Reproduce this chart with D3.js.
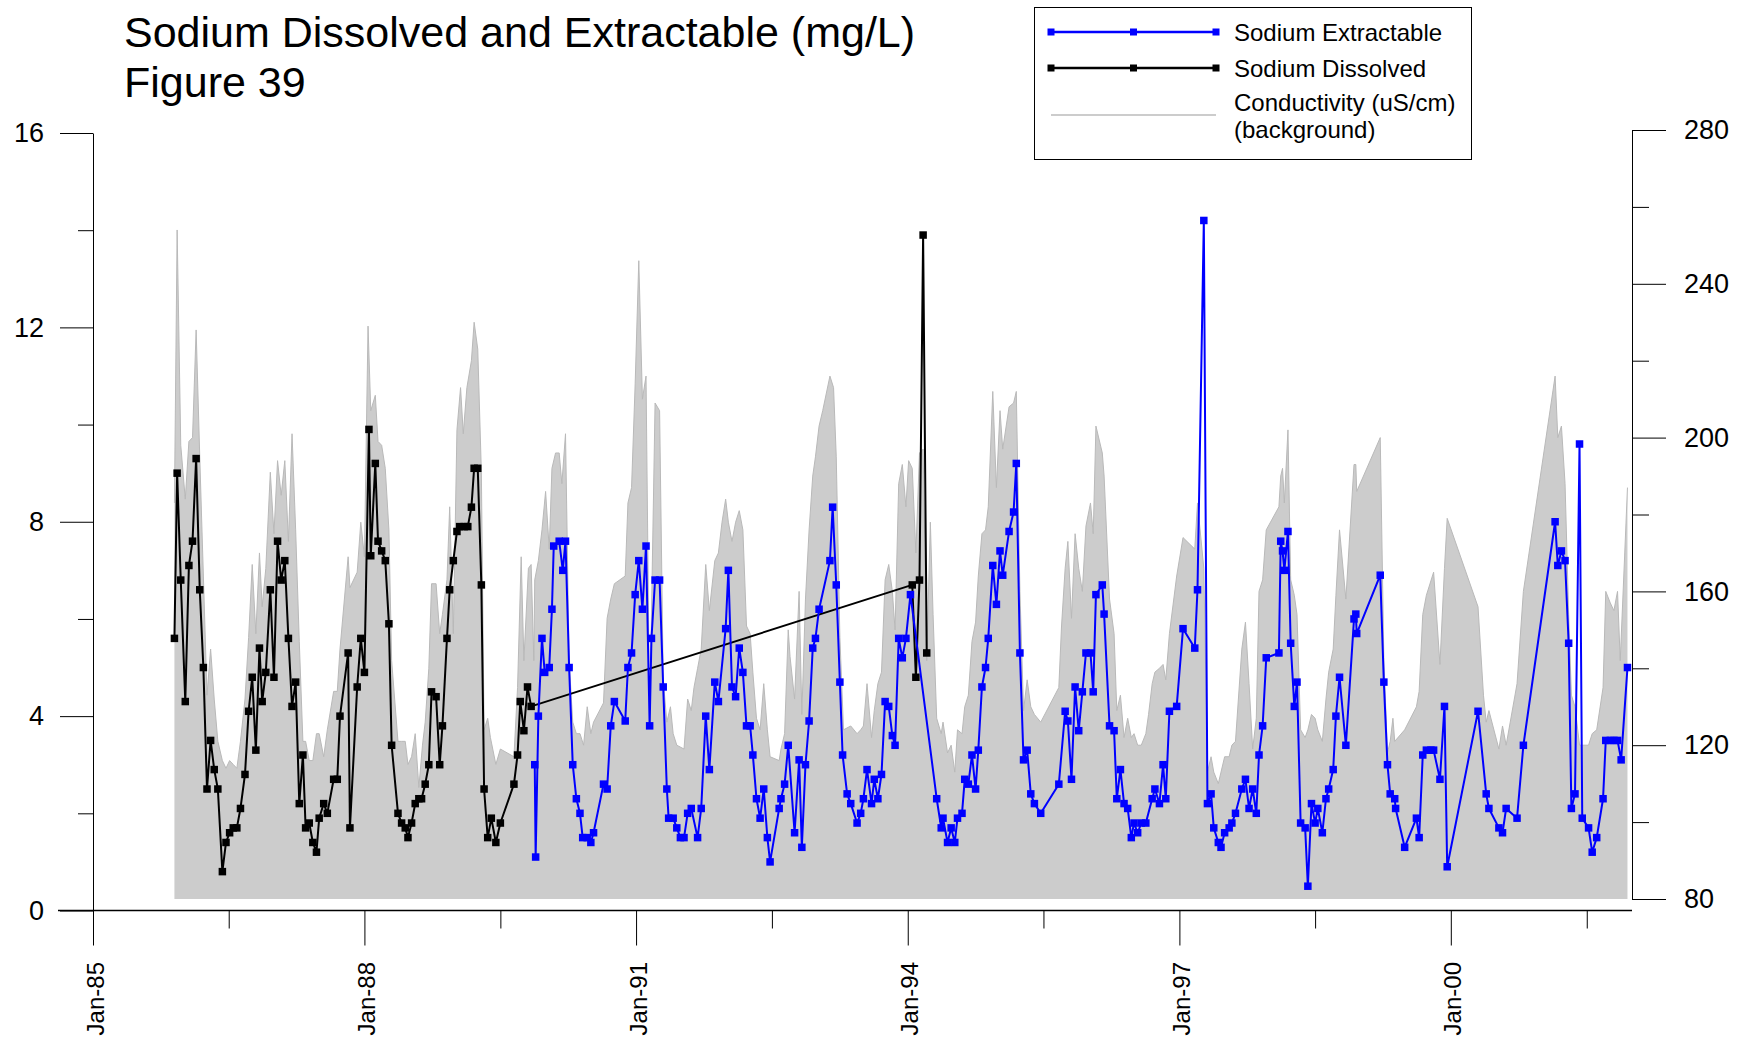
<!DOCTYPE html>
<html><head><meta charset="utf-8">
<script src="https://cdn.jsdelivr.net/npm/d3@7"></script>
<style>
body{margin:0;background:#fff}
svg{display:block;background:#fff}
text{font-family:"Liberation Sans",Arial,Helvetica,sans-serif;fill:#000}
</style>
</head><body>
<svg id="chart" width="1749" height="1038"></svg>
<script>
// ---------- text ----------
const titleLines = ["Sodium Dissolved and Extractable (mg/L)", "Figure 39"];
const legendLabels = ["Sodium Extractable", "Sodium Dissolved", "Conductivity (uS/cm)", "(background)"];

// ---------- ticks ----------
const xTickYears = [1985, 1988, 1991, 1994, 1997, 2000];
const xTickLabels = ["Jan-85", "Jan-88", "Jan-91", "Jan-94", "Jan-97", "Jan-00"];
const xMinorYears = [1986.5, 1989.5, 1992.5, 1995.5, 1998.5, 2001.5];
const leftTicks = [0, 4, 8, 12, 16];
const leftMinorTicks = [2, 6, 10, 14];
const rightTicks = [80, 120, 160, 200, 240, 280];
const rightMinorTicks = [100, 140, 180, 220, 260];

// ---------- data: [decimal year, value] ----------
const sodiumDissolved = [
[1985.90,5.6],[1985.93,9.0],[1985.97,6.8],
[1986.02,4.3],[1986.06,7.1],[1986.10,7.6],[1986.14,9.3],[1986.18,6.6],[1986.22,5.0],[1986.26,2.5],[1986.30,3.5],[1986.34,2.9],[1986.38,2.5],[1986.43,0.8],[1986.47,1.4],[1986.51,1.6],[1986.55,1.7],[1986.59,1.7],[1986.63,2.1],[1986.68,2.8],[1986.72,4.1],[1986.76,4.8],[1986.80,3.3],[1986.84,5.4],[1986.87,4.3],[1986.91,4.9],[1986.96,6.6],
[1987.00,4.8],[1987.04,7.6],[1987.08,6.8],[1987.12,7.2],[1987.16,5.6],[1987.20,4.2],[1987.24,4.7],[1987.28,2.2],[1987.32,3.2],[1987.35,1.7],[1987.39,1.8],[1987.43,1.4],[1987.47,1.2],[1987.50,1.9],[1987.55,2.2],[1987.59,2.0],[1987.66,2.7],[1987.70,2.7],[1987.73,4.0],[1987.82,5.3],[1987.84,1.7],[1987.92,4.6],[1987.96,5.6],
[1988.00,4.9],[1988.05,9.9],[1988.07,7.3],[1988.12,9.2],[1988.15,7.6],[1988.19,7.4],[1988.23,7.2],[1988.27,5.9],[1988.30,3.4],[1988.37,2.0],[1988.41,1.8],[1988.45,1.7],[1988.48,1.5],[1988.52,1.8],[1988.56,2.2],[1988.60,2.3],[1988.63,2.3],[1988.67,2.6],[1988.71,3.0],[1988.74,4.5],[1988.79,4.4],[1988.83,3.0],[1988.86,3.8],[1988.91,5.6],[1988.94,6.6],[1988.98,7.2],
[1989.02,7.8],[1989.05,7.9],[1989.10,7.9],[1989.14,7.9],[1989.18,8.3],[1989.21,9.1],[1989.25,9.1],[1989.29,6.7],[1989.32,2.5],[1989.36,1.5],[1989.40,1.9],[1989.45,1.4],[1989.50,1.8],[1989.65,2.6],[1989.69,3.2],[1989.72,4.3],[1989.76,3.7],[1989.80,4.6],[1989.84,4.2],
[1994.05,6.7],[1994.09,4.8],[1994.13,6.8],[1994.17,13.9],[1994.21,5.3]
];

const sodiumExtractable = [
[1989.88,3.0],[1989.89,1.1],[1989.92,4.0],[1989.96,5.6],[1989.99,4.9],
[1990.04,5.0],[1990.07,6.2],[1990.09,7.5],[1990.15,7.6],[1990.19,7.0],[1990.22,7.6],[1990.26,5.0],[1990.30,3.0],[1990.34,2.3],[1990.38,2.0],[1990.41,1.5],[1990.46,1.5],[1990.50,1.4],[1990.53,1.6],[1990.64,2.6],[1990.68,2.5],[1990.72,3.8],[1990.76,4.3],[1990.88,3.9],[1990.91,5.0],[1990.95,5.3],[1990.99,6.5],
[1991.03,7.2],[1991.07,6.2],[1991.11,7.5],[1991.15,3.8],[1991.17,5.6],[1991.21,6.8],[1991.26,6.8],[1991.30,4.6],[1991.34,2.5],[1991.36,1.9],[1991.41,1.9],[1991.45,1.7],[1991.49,1.5],[1991.53,1.5],[1991.57,2.0],[1991.61,2.1],[1991.68,1.5],[1991.72,2.1],[1991.77,4.0],[1991.81,2.9],[1991.87,4.7],[1991.91,4.3],[1991.99,5.8],
[1992.02,7.0],[1992.06,4.6],[1992.10,4.4],[1992.14,5.4],[1992.18,4.9],[1992.22,3.8],[1992.26,3.8],[1992.29,3.2],[1992.33,2.3],[1992.37,1.9],[1992.41,2.5],[1992.45,1.5],[1992.48,1.0],[1992.58,2.1],[1992.60,2.3],[1992.64,2.6],[1992.68,3.4],[1992.75,1.6],[1992.80,3.1],[1992.83,1.3],[1992.87,3.0],[1992.91,3.9],[1992.95,5.4],[1992.98,5.6],
[1993.02,6.2],[1993.14,7.2],[1993.17,8.3],[1993.21,6.7],[1993.25,4.7],[1993.28,3.2],[1993.33,2.4],[1993.37,2.2],[1993.44,1.8],[1993.48,2.0],[1993.51,2.3],[1993.55,2.9],[1993.60,2.2],[1993.63,2.7],[1993.67,2.3],[1993.71,2.8],[1993.75,4.3],[1993.79,4.2],[1993.83,3.6],[1993.86,3.4],[1993.90,5.6],[1993.94,5.2],[1993.98,5.6],
[1994.03,6.5],[1994.32,2.3],[1994.37,1.7],[1994.39,1.9],[1994.44,1.4],[1994.48,1.7],[1994.52,1.4],[1994.55,1.9],[1994.60,2.0],[1994.63,2.7],[1994.67,2.6],[1994.71,3.2],[1994.75,2.5],[1994.78,3.3],[1994.82,4.6],[1994.86,5.0],[1994.89,5.6],[1994.94,7.1],[1994.98,6.3],
[1995.02,7.4],[1995.05,6.9],[1995.12,7.8],[1995.17,8.2],[1995.20,9.2],[1995.24,5.3],[1995.28,3.1],[1995.32,3.3],[1995.36,2.4],[1995.40,2.2],[1995.47,2.0],[1995.67,2.6],[1995.74,4.1],[1995.77,3.9],[1995.81,2.7],[1995.85,4.6],[1995.89,3.7],[1995.93,4.5],[1995.97,5.3],
[1996.02,5.3],[1996.05,4.5],[1996.08,6.5],[1996.15,6.7],[1996.17,6.1],[1996.23,3.8],[1996.28,3.7],[1996.31,2.3],[1996.35,2.9],[1996.39,2.2],[1996.43,2.1],[1996.47,1.5],[1996.50,1.8],[1996.54,1.6],[1996.58,1.8],[1996.63,1.8],[1996.70,2.3],[1996.73,2.5],[1996.78,2.2],[1996.82,3.0],[1996.85,2.3],[1996.89,4.1],[1996.97,4.2],
[1997.04,5.8],[1997.17,5.4],[1997.20,6.6],[1997.27,14.2],[1997.31,2.2],[1997.35,2.4],[1997.38,1.7],[1997.43,1.4],[1997.46,1.3],[1997.50,1.6],[1997.55,1.7],[1997.58,1.8],[1997.62,2.0],[1997.69,2.5],[1997.73,2.7],[1997.77,2.1],[1997.81,2.5],[1997.85,2.0],[1997.88,3.2],[1997.92,3.8],[1997.96,5.2],
[1998.10,5.3],[1998.12,7.6],[1998.14,7.4],[1998.16,7.0],[1998.20,7.8],[1998.23,5.5],[1998.27,4.2],[1998.30,4.7],[1998.34,1.8],[1998.39,1.7],[1998.42,0.5],[1998.46,2.2],[1998.50,1.8],[1998.53,2.1],[1998.58,1.6],[1998.62,2.3],[1998.65,2.5],[1998.70,2.9],[1998.73,4.0],[1998.77,4.8],[1998.84,3.4],[1998.93,6.0],[1998.95,6.1],[1998.96,5.7],
[1999.22,6.9],[1999.26,4.7],[1999.30,3.0],[1999.33,2.4],[1999.38,2.3],[1999.39,2.1],[1999.49,1.3],[1999.62,1.9],[1999.65,1.5],[1999.69,3.2],[1999.73,3.3],[1999.78,3.3],[1999.81,3.3],[1999.88,2.7],[1999.93,4.2],[1999.96,0.9],
[2000.30,4.1],[2000.39,2.4],[2000.42,2.1],[2000.53,1.7],[2000.57,1.6],[2000.61,2.1],[2000.73,1.9],[2000.80,3.4],
[2001.15,8.0],[2001.18,7.1],[2001.22,7.4],[2001.26,7.2],[2001.30,5.5],[2001.33,2.1],[2001.37,2.4],[2001.42,9.6],[2001.45,1.9],[2001.52,1.7],[2001.56,1.2],[2001.61,1.5],[2001.68,2.3],[2001.71,3.5],[2001.76,3.5],[2001.80,3.5],[2001.84,3.5],[2001.88,3.1],[2001.95,5.0]
];

const conductivity = [
[1985.90,183],[1985.93,254],[1985.97,198],
[1986.02,184],[1986.06,199],[1986.10,200],[1986.14,228],[1986.18,195],[1986.22,164],[1986.26,133],[1986.30,145],[1986.34,132],[1986.38,121],[1986.43,116],[1986.47,114],[1986.51,116],[1986.55,115],[1986.59,114],[1986.63,121],[1986.68,132],[1986.72,148],[1986.76,167],[1986.80,149],[1986.84,170],[1986.87,156],[1986.91,166],[1986.96,191],
[1987.00,175],[1987.04,194],[1987.08,185],[1987.12,194],[1987.16,173],[1987.20,201],[1987.24,176],[1987.28,147],[1987.32,121],[1987.35,121],[1987.39,116],[1987.43,116],[1987.47,123],[1987.50,123],[1987.55,117],[1987.59,124],[1987.66,134],[1987.70,134],[1987.73,145],[1987.82,169],[1987.84,161],[1987.92,165],[1987.96,178],
[1988.00,169],[1988.04,229],[1988.07,207],[1988.12,211],[1988.15,199],[1988.19,198],[1988.23,192],[1988.27,176],[1988.30,142],[1988.37,121],[1988.41,121],[1988.45,121],[1988.48,115],[1988.52,117],[1988.56,123],[1988.60,109],[1988.64,120],[1988.67,126],[1988.71,140],[1988.74,162],[1988.79,162],[1988.83,149],[1988.86,154],[1988.91,163],[1988.94,182],[1988.98,149],
[1989.02,202],[1989.06,213],[1989.09,201],[1989.13,213],[1989.18,220],[1989.21,230],[1989.25,223],[1989.29,191],[1989.32,124],[1989.36,127],[1989.39,122],[1989.45,115],[1989.50,119],[1989.65,117],[1989.69,135],[1989.73,169],[1989.76,142],[1989.81,166],[1989.84,167],[1989.87,142],[1989.88,163],[1989.92,168],[1989.96,176],
[1990.00,186],[1990.04,171],[1990.07,192],[1990.11,196],[1990.15,196],[1990.18,188],[1990.22,201],[1990.26,142],[1990.30,126],[1990.34,123],[1990.38,123],[1990.42,120],[1990.46,130],[1990.50,123],[1990.53,126],[1990.64,131],[1990.68,153],[1990.72,158],[1990.76,162],[1990.88,164],[1990.91,183],[1990.95,187],[1990.99,214],
[1991.03,246],[1991.07,210],[1991.11,216],[1991.15,126],[1991.21,209],[1991.26,207],[1991.30,137],[1991.34,126],[1991.38,130],[1991.41,123],[1991.45,120],[1991.53,119],[1991.57,132],[1991.61,129],[1991.64,135],[1991.68,140],[1991.72,145],[1991.77,167],[1991.81,155],[1991.87,168],[1991.91,170],[1991.95,178],[1991.99,184],
[1992.02,178],[1992.06,173],[1992.10,178],[1992.14,181],[1992.18,176],[1992.22,151],[1992.26,149],[1992.29,139],[1992.33,127],[1992.37,124],[1992.41,136],[1992.45,124],[1992.48,117],[1992.58,116],[1992.60,119],[1992.64,123],[1992.68,150],[1992.70,143],[1992.75,132],[1992.80,160],[1992.83,128],[1992.87,158],[1992.91,176],[1992.95,190],[1992.98,195],
[1993.02,203],[1993.06,207],[1993.14,216],[1993.18,213],[1993.21,195],[1993.25,148],[1993.29,124],[1993.37,125],[1993.44,123],[1993.48,124],[1993.51,125],[1993.55,136],[1993.60,122],[1993.63,129],[1993.67,136],[1993.71,139],[1993.75,163],[1993.79,167],[1993.83,160],[1993.86,150],[1993.90,188],[1993.94,193],[1993.98,182],
[1994.01,194],[1994.05,192],[1994.09,170],[1994.13,196],[1994.17,197],[1994.21,142],[1994.25,178],[1994.28,154],[1994.32,127],[1994.37,123],[1994.39,126],[1994.44,118],[1994.48,120],[1994.52,113],[1994.55,124],[1994.60,123],[1994.63,130],[1994.67,133],[1994.71,147],[1994.75,152],[1994.78,164],[1994.82,175],[1994.86,176],[1994.89,182],[1994.94,212],[1994.98,187],
[1995.02,207],[1995.05,197],[1995.12,208],[1995.17,209],[1995.20,212],[1995.24,160],[1995.28,129],[1995.32,137],[1995.36,130],[1995.40,128],[1995.47,126],[1995.67,135],[1995.70,151],[1995.74,166],[1995.77,173],[1995.81,153],[1995.85,175],[1995.89,166],[1995.93,160],[1995.97,177],
[1996.02,183],[1996.05,175],[1996.08,203],[1996.15,196],[1996.17,190],[1996.23,158],[1996.28,149],[1996.31,129],[1996.35,133],[1996.39,122],[1996.43,127],[1996.47,122],[1996.50,123],[1996.54,120],[1996.58,120],[1996.63,123],[1996.66,128],[1996.70,136],[1996.73,139],[1996.78,140],[1996.82,141],[1996.85,137],[1996.89,149],[1996.97,164],
[1997.04,174],[1997.17,171],[1997.20,183],[1997.27,166],[1997.31,113],[1997.35,117],[1997.38,113],[1997.43,110],[1997.46,113],[1997.50,117],[1997.55,117],[1997.58,120],[1997.62,121],[1997.69,145],[1997.73,152],[1997.77,136],[1997.81,119],[1997.85,127],[1997.88,160],[1997.92,163],[1997.96,176],
[1998.10,182],[1998.12,190],[1998.14,192],[1998.16,183],[1998.20,202],[1998.23,163],[1998.27,159],[1998.30,154],[1998.34,124],[1998.39,122],[1998.42,124],[1998.46,128],[1998.50,127],[1998.53,124],[1998.58,121],[1998.62,132],[1998.65,139],[1998.70,145],[1998.73,159],[1998.77,176],[1998.84,158],[1998.93,193],[1998.95,193],[1998.96,186],
[1999.22,200],[1999.26,142],[1999.30,118],[1999.33,121],[1999.36,127],[1999.38,121],[1999.49,124],[1999.62,130],[1999.65,134],[1999.69,154],[1999.73,159],[1999.81,165],[1999.88,141],[1999.93,166],[1999.96,179],
[2000.30,156],[2000.36,133],[2000.39,126],[2000.42,129],[2000.53,119],[2000.57,125],[2000.61,120],[2000.73,136],[2000.80,160],
[2001.15,216],[2001.18,200],[2001.22,203],[2001.26,188],[2001.30,154],[2001.33,133],[2001.37,130],[2001.42,120],[2001.52,120],[2001.56,123],[2001.61,124],[2001.68,135],[2001.71,160],[2001.76,157],[2001.80,155],[2001.84,160],[2001.87,142],[2001.95,187]
];

// ---------- helpers ----------
function toDate(y) {
  const yr = Math.floor(y + 1e-9);
  const s = Date.UTC(yr, 0, 1), e = Date.UTC(yr + 1, 0, 1);
  return new Date(s + (y - yr) * (e - s));
}

const svg = d3.select("#chart");
const FONT = '"Liberation Sans", Arial, Helvetica, sans-serif';

const x = d3.scaleUtc().domain([toDate(1985), toDate(2002)]).range([93, 1632]);
const yL = d3.scaleLinear().domain([0, 16]).range([910.5, 133]);
const yR = d3.scaleLinear().domain([80, 280]).range([899, 130]);

// ---------- conductivity background ----------
const area = d3.area()
  .x(d => x(toDate(d[0])))
  .y0(yR(80))
  .y1(d => yR(d[1]));
svg.append("path").datum(conductivity)
  .attr("d", area).attr("fill", "#cccccc").attr("stroke", "none");
svg.append("path").datum(conductivity)
  .attr("d", d3.line().x(d => x(toDate(d[0]))).y(d => yR(d[1])))
  .attr("fill", "none").attr("stroke", "#b9b9b9").attr("stroke-width", 1);

// ---------- axes ----------
function styleAxis(g, size) {
  g.attr("font-size", size).attr("font-family", FONT);
  g.selectAll("line").attr("stroke", "#000");
  g.selectAll("path.domain").attr("stroke", "#000");
  g.selectAll("text").style("font-size", size + "px");
}

// left axis
const gL = svg.append("g").attr("transform", "translate(93,0)")
  .call(d3.axisLeft(yL).tickValues(leftTicks).tickSize(33).tickSizeOuter(0).tickPadding(16).tickFormat(d3.format("d")));
styleAxis(gL, 27);
const gLm = svg.append("g").attr("transform", "translate(93,0)")
  .call(d3.axisLeft(yL).tickValues(leftMinorTicks).tickSize(15).tickSizeOuter(0).tickFormat(""));
gLm.select("path.domain").remove();
styleAxis(gLm, 27);

// right axis
const gR = svg.append("g").attr("transform", "translate(1632,0)")
  .call(d3.axisRight(yR).tickValues(rightTicks).tickSize(34).tickSizeOuter(0).tickPadding(18).tickFormat(d3.format("d")));
styleAxis(gR, 27);
const gRm = svg.append("g").attr("transform", "translate(1632,0)")
  .call(d3.axisRight(yR).tickValues(rightMinorTicks).tickSize(17).tickSizeOuter(0).tickFormat(""));
gRm.select("path.domain").remove();
styleAxis(gRm, 27);

// bottom axis
const gB = svg.append("g").attr("transform", "translate(0,910.5)")
  .call(d3.axisBottom(x).tickValues(xTickYears.map(toDate)).tickSize(35).tickSizeOuter(0)
    .tickFormat((d, i) => xTickLabels[i]));
gB.select("path.domain").remove();
styleAxis(gB, 24);
gB.selectAll(".tick text")
  .attr("transform", "rotate(-90)")
  .attr("x", -51.5).attr("y", 10).attr("dy", 0)
  .style("text-anchor", "end");
const gBm = svg.append("g").attr("transform", "translate(0,910.5)")
  .call(d3.axisBottom(x).tickValues(xMinorYears.map(toDate)).tickSize(18).tickSizeOuter(0).tickFormat(""));
gBm.select("path.domain").remove();
styleAxis(gBm, 24);
svg.append("line").attr("x1", 58).attr("x2", 1632).attr("y1", 910.5).attr("y2", 910.5)
  .attr("stroke", "#000").attr("stroke-width", 1.6);

// ---------- series ----------
const lineL = d3.line().x(d => x(toDate(d[0]))).y(d => yL(d[1]));
const MS = 7.5;
function drawSeries(data, color) {
  svg.append("path").datum(data).attr("d", lineL)
    .attr("fill", "none").attr("stroke", color).attr("stroke-width", 2).attr("stroke-linejoin", "round");
  svg.append("g").selectAll("rect").data(data).join("rect")
    .attr("x", d => x(toDate(d[0])) - MS / 2).attr("y", d => yL(d[1]) - MS / 2)
    .attr("width", MS).attr("height", MS).attr("fill", color);
}
drawSeries(sodiumDissolved, "#000000");
drawSeries(sodiumExtractable, "#0000ff");

// ---------- legend ----------
const lg = svg.append("g");
lg.append("rect").attr("x", 1034.5).attr("y", 7.5).attr("width", 437).attr("height", 152)
  .attr("fill", "#fff").attr("stroke", "#000").attr("stroke-width", 1);
const legendRows = [
  {label: legendLabels[0], color: "#0000ff", y: 32},
  {label: legendLabels[1], color: "#000000", y: 68}
];
legendRows.forEach(r => {
  lg.append("line").attr("x1", 1051).attr("x2", 1216).attr("y1", r.y).attr("y2", r.y)
    .attr("stroke", r.color).attr("stroke-width", 2.5);
  [1051, 1133.5, 1216].forEach(mx => lg.append("rect")
    .attr("x", mx - 3.5).attr("y", r.y - 3.5).attr("width", 7).attr("height", 7).attr("fill", r.color));
  lg.append("text").attr("x", 1234).attr("y", r.y + 9).style("font-size", "24px").text(r.label);
});
lg.append("line").attr("x1", 1051).attr("x2", 1216).attr("y1", 115).attr("y2", 115)
  .attr("stroke", "#cccccc").attr("stroke-width", 2);
lg.append("text").attr("x", 1234).attr("y", 111).style("font-size", "24px").text(legendLabels[2]);
lg.append("text").attr("x", 1234).attr("y", 138).style("font-size", "24px").text(legendLabels[3]);

// ---------- title ----------
svg.append("text").attr("x", 124).attr("y", 47).style("font-size", "43px").text(titleLines[0]);
svg.append("text").attr("x", 124).attr("y", 97).style("font-size", "43px").text(titleLines[1]);
</script>
</body></html>
